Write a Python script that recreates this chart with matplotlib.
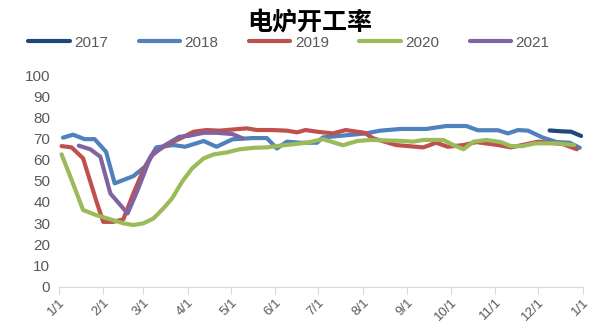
import numpy as np
import pandas as pd
import matplotlib
matplotlib.use('Agg')
import matplotlib.pyplot as plt

plt.rcParams['font.family'] = ['Liberation Sans', 'Noto Sans CJK SC', 'DejaVu Sans']

# day of year (0 = Jan 1) and rate values
d17 = [342, 350, 357, 364]
v17 = [73.8, 73.4, 73.2, 71.2]

d18 = [3, 10, 18, 25, 33, 39, 52, 60, 68, 80, 88, 101, 110, 121, 135, 145, 152, 159, 168,
       180, 184, 214, 224, 238, 256, 270, 284, 292, 306, 313, 320, 327, 337, 347, 356, 363]
v18 = [70.4, 71.8, 69.7, 69.7, 63.7, 48.8, 52.2, 56.6, 65.8, 66.9, 66.1, 68.8, 66.1, 69.6, 70.2,
       70.2, 65.3, 68.5, 68.0, 68.0, 70.5, 72.4, 73.7, 74.5, 74.5, 75.9, 75.9, 73.9, 73.9, 72.4,
       74.0, 73.7, 70.5, 68.3, 68.0, 65.6]

d19 = [2, 9, 17, 26, 31, 38, 45, 52, 59, 66, 75, 85, 94, 103, 112, 122, 131, 138, 149, 159,
       166, 172, 180, 191, 200, 213, 219, 235, 254, 263, 271, 282, 291, 306, 315, 323, 334, 351, 361]
v19 = [66.4, 65.8, 60.6, 40.9, 30.6, 30.6, 31.8, 44.0, 55.0, 63.0, 66.9, 70.1, 73.2, 74.0, 73.7,
       74.3, 74.8, 74.0, 74.0, 73.7, 72.9, 74.0, 73.2, 72.4, 74.0, 72.7, 70.1, 66.9, 65.8, 68.0,
       66.1, 66.9, 68.3, 66.9, 65.8, 66.9, 68.5, 67.4, 64.9]

d20 = [2, 9, 17, 26, 36, 45, 52, 59, 66, 73, 79, 86, 93, 101, 108, 117, 126, 136, 145, 158,
       173, 184, 198, 208, 217, 238, 247, 254, 268, 275, 282, 289, 298, 308, 315, 323, 332, 347, 359]
v20 = [62.5, 50.4, 36.2, 33.8, 31.8, 29.9, 29.1, 29.9, 32.2, 37.0, 41.7, 49.6, 55.9, 60.6, 62.5,
       63.4, 64.9, 65.6, 65.8, 66.9, 68.0, 69.7, 66.8, 68.8, 69.3, 68.9, 68.5, 69.3, 69.3, 66.9,
       64.9, 68.5, 69.3, 68.3, 66.4, 66.4, 67.7, 67.7, 66.9]

d21 = [14, 22, 29, 36, 48, 55, 64, 73, 84, 91, 101, 110, 121, 128]
v21 = [66.6, 64.9, 61.4, 44.0, 34.6, 45.6, 61.4, 66.4, 70.8, 71.3, 72.7, 72.7, 72.1, 70.1]

years = ['2017', '2018', '2019', '2020', '2021']
colors = ['#1F497D', '#4F81BD', '#C0504D', '#9BBB59', '#8064A2']

month_starts = pd.date_range('2021-01-01', '2022-01-01', freq='MS')
tick_pos = (month_starts - month_starts[0]).days
tick_labels = [f'{m.month}/{m.day}' for m in month_starts]

fig = plt.figure(figsize=(5.96, 3.22), dpi=100)
ax = fig.add_axes([0.0985, 0.110, 0.879, 0.657])

for d, v, yr, c in zip([d17, d18, d19, d20, d21], [v17, v18, v19, v20, v21], years, colors):
    ax.plot(d, v, color=c, lw=3.0, label=yr, solid_capstyle='round', solid_joinstyle='round')

ax.set_xlim(0, 365)
ax.set_ylim(0, 100)
ax.set_yticks(range(0, 101, 10))
ax.set_xticks(tick_pos)
ax.set_xticklabels(tick_labels, rotation=45, ha='right', rotation_mode='anchor')

for s in ['top', 'right', 'left']:
    ax.spines[s].set_visible(False)
ax.spines['bottom'].set_color('#D9D9D9')
ax.tick_params(axis='y', length=0, labelsize=11, labelcolor='#595959', pad=6)
ax.tick_params(axis='x', length=5, color='#D9D9D9', labelsize=9.5, labelcolor='#595959', pad=2)

fig.text(0.52, 0.93, '电炉开工率', ha='center', va='center', fontsize=18, fontweight='bold',
         family=['Noto Sans CJK SC', 'DejaVu Sans'])
fig.legend(loc='center', bbox_to_anchor=(0.485, 0.868), ncol=5, frameon=False, fontsize=11,
           handlelength=2.7, columnspacing=2.0, handletextpad=0.3, labelcolor='#595959')

fig.savefig('out.png', dpi=100)
